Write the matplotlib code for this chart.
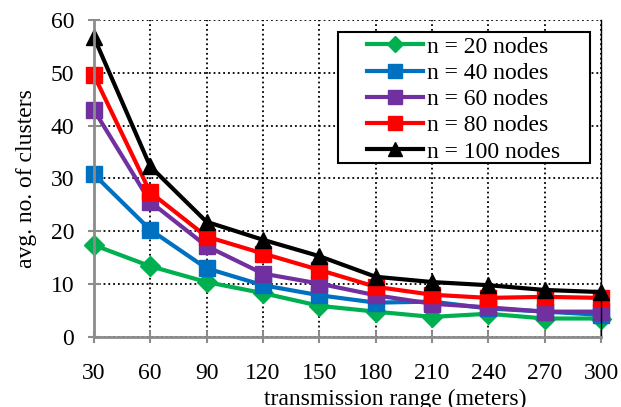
import matplotlib.pyplot as plt
from matplotlib.patches import Rectangle

plt.rcParams['font.family'] = ['Liberation Serif', 'DejaVu Serif']

ranges = ['30', '60', '90', '120', '150', '180', '210', '240', '270', '300']
n20 = [17.4, 13.4, 10.4, 8.3, 5.9, 4.8, 3.8, 4.4, 3.5, 3.5]
n40 = [30.8, 20.3, 13.0, 9.8, 7.9, 6.5, 6.7, 5.4, 4.8, 4.2]
n60 = [43.0, 25.6, 17.2, 12.0, 10.1, 7.9, 6.3, 5.6, 4.8, 4.8]
n80 = [49.6, 27.4, 19.0, 15.8, 12.7, 9.5, 8.0, 7.4, 7.6, 7.4]
n100 = [56.8, 32.3, 21.8, 18.4, 15.3, 11.4, 10.4, 9.8, 8.9, 8.5]

series = [
    ('n = 20 nodes', n20, '#00B050', 'D', 10),
    ('n = 40 nodes', n40, '#0070C0', 's', 12),
    ('n = 60 nodes', n60, '#7030A0', 's', 12),
    ('n = 80 nodes', n80, '#FF0000', 's', 12),
    ('n = 100 nodes', n100, '#000000', '^', 12),
]

fig = plt.figure(figsize=(6.21, 4.07), dpi=100)
ax = fig.add_axes([0.151, 0.172, 0.817, 0.779])

x = range(len(ranges))
for label, vals, color, marker, ms in series:
    ax.plot(x, vals, color=color, lw=3, marker=marker, ms=ms, label=label, clip_on=False)

ax.set_xlim(0, len(ranges) - 1)
ax.set_ylim(0, 60)
ax.set_yticks(range(0, 61, 10))
ax.set_xticks(list(x))
ax.set_xticklabels(ranges)
ax.grid(True, color='black', linestyle=':', linewidth=1.3)
ax.set_axisbelow(True)

for side in ['left', 'bottom']:
    ax.spines[side].set_color('#8c8c8c')
    ax.spines[side].set_linewidth(2)
ax.spines['top'].set_visible(False)
ax.spines['right'].set_color('black')
ax.spines['right'].set_linewidth(1)
ax.tick_params(axis='x', colors='#8c8c8c', direction='inout', length=8, width=1.5, pad=15,
               labelsize=17, labelcolor='black')
ax.tick_params(axis='y', colors='#8c8c8c', direction='inout', length=8, width=1.5, pad=10,
               labelsize=17, labelcolor='black')

ax.set_xlabel('transmission range (meters)', fontsize=17)
ax.xaxis.set_label_coords(0.595, -0.213)
ax.xaxis.label.set_va('baseline')
ax.set_ylabel('avg. no. of clusters', fontsize=17, labelpad=10)

# legend box is wider than its entries, so draw the frame separately
box = Rectangle((0.481, 0.549), 0.497, 0.413, transform=ax.transAxes, facecolor='white',
                edgecolor='black', linewidth=1.5, zorder=4.9)
ax.add_patch(box)
leg = ax.legend(loc='upper left', bbox_to_anchor=(0.538, 0.949), fontsize=17, frameon=False,
                handlelength=2.4, handletextpad=0.15, labelspacing=0.2, borderpad=0,
                borderaxespad=0, markerscale=0.85)
leg.set_zorder(5)

fig.savefig('out.png', dpi=100)
